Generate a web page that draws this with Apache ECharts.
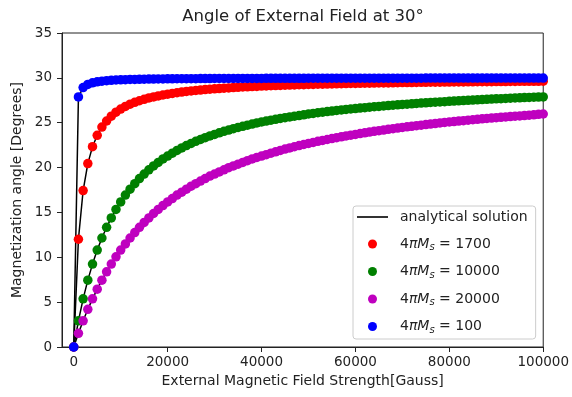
<!DOCTYPE html>
<html>
<head>
<meta charset="utf-8">
<script src="https://cdn.jsdelivr.net/npm/echarts@6/dist/echarts.min.js"></script>
<style>
  html, body { margin: 0; padding: 0; background: #fff; }
  #chart { width: 572px; height: 397px; }
</style>
</head>
<body>
<div id="chart"></div>
<script>
// external field values (Gauss), one per sample
var fieldH = [0, 1000, 2000, 3000, 4000, 5000, 6000, 7000, 8000, 9000,
  10000, 11000, 12000, 13000, 14000, 15000, 16000, 17000, 18000, 19000,
  20000, 21000, 22000, 23000, 24000, 25000, 26000, 27000, 28000, 29000,
  30000, 31000, 32000, 33000, 34000, 35000, 36000, 37000, 38000, 39000,
  40000, 41000, 42000, 43000, 44000, 45000, 46000, 47000, 48000, 49000,
  50000, 51000, 52000, 53000, 54000, 55000, 56000, 57000, 58000, 59000,
  60000, 61000, 62000, 63000, 64000, 65000, 66000, 67000, 68000, 69000,
  70000, 71000, 72000, 73000, 74000, 75000, 76000, 77000, 78000, 79000,
  80000, 81000, 82000, 83000, 84000, 85000, 86000, 87000, 88000, 89000,
  90000, 91000, 92000, 93000, 94000, 95000, 96000, 97000, 98000, 99000,
  100000];

// magnetization angle (degrees)
var angle1700 = [0, 12.01, 17.44, 20.44, 22.33, 23.60, 24.52, 25.19, 25.73, 26.17,
  26.52, 26.81, 27.06, 27.27, 27.45, 27.61, 27.76, 27.88, 27.99, 28.09,
  28.18, 28.27, 28.34, 28.41, 28.48, 28.54, 28.59, 28.64, 28.69, 28.73,
  28.78, 28.81, 28.85, 28.88, 28.92, 28.95, 28.98, 29.00, 29.03, 29.05,
  29.08, 29.10, 29.12, 29.14, 29.16, 29.18, 29.19, 29.21, 29.23, 29.24,
  29.26, 29.27, 29.29, 29.30, 29.31, 29.32, 29.34, 29.35, 29.36, 29.37,
  29.38, 29.39, 29.40, 29.41, 29.42, 29.43, 29.44, 29.44, 29.45, 29.46,
  29.47, 29.48, 29.48, 29.49, 29.50, 29.50, 29.51, 29.52, 29.52, 29.53,
  29.53, 29.54, 29.55, 29.55, 29.56, 29.56, 29.57, 29.57, 29.58, 29.58,
  29.59, 29.59, 29.59, 29.60, 29.60, 29.61, 29.61, 29.61, 29.62, 29.62,
  29.63];

var angle10000 = [0, 2.92, 5.37, 7.45, 9.24, 10.80, 12.15, 13.34, 14.39, 15.33,
  16.17, 16.93, 17.59, 18.21, 18.77, 19.28, 19.75, 20.18, 20.57, 20.96,
  21.28, 21.60, 21.91, 22.19, 22.45, 22.69, 22.92, 23.13, 23.33, 23.53,
  23.70, 23.87, 24.04, 24.18, 24.33, 24.48, 24.60, 24.73, 24.85, 24.97,
  25.08, 25.18, 25.28, 25.38, 25.48, 25.56, 25.64, 25.72, 25.80, 25.88,
  25.97, 26.04, 26.11, 26.17, 26.24, 26.30, 26.36, 26.42, 26.48, 26.53,
  26.58, 26.63, 26.68, 26.73, 26.78, 26.82, 26.87, 26.91, 26.96, 27.00,
  27.04, 27.07, 27.11, 27.15, 27.19, 27.22, 27.26, 27.29, 27.32, 27.35,
  27.38, 27.41, 27.44, 27.47, 27.50, 27.53, 27.55, 27.58, 27.61, 27.63,
  27.66, 27.68, 27.71, 27.73, 27.76, 27.78, 27.80, 27.82, 27.84, 27.86,
  27.88];

var angle20000 = [0, 1.52, 2.92, 4.20, 5.37, 6.45, 7.45, 8.38, 9.24, 10.05,
  10.80, 11.49, 12.15, 12.76, 13.34, 13.89, 14.39, 14.88, 15.33, 15.76,
  16.17, 16.55, 16.93, 17.26, 17.59, 17.92, 18.21, 18.49, 18.77, 19.05,
  19.28, 19.52, 19.75, 19.99, 20.18, 20.38, 20.57, 20.77, 20.96, 21.13,
  21.28, 21.44, 21.60, 21.75, 21.91, 22.06, 22.19, 22.32, 22.45, 22.57,
  22.69, 22.80, 22.92, 23.03, 23.13, 23.23, 23.33, 23.43, 23.53, 23.61,
  23.70, 23.79, 23.87, 23.96, 24.04, 24.11, 24.18, 24.26, 24.33, 24.40,
  24.48, 24.54, 24.60, 24.67, 24.73, 24.79, 24.85, 24.91, 24.97, 25.03,
  25.08, 25.13, 25.18, 25.23, 25.28, 25.33, 25.38, 25.43, 25.48, 25.52,
  25.56, 25.60, 25.64, 25.68, 25.72, 25.76, 25.80, 25.84, 25.88, 25.93,
  25.97];

var angle100 = [0, 27.88, 28.92, 29.27, 29.45, 29.56, 29.63, 29.69, 29.72, 29.76,
  29.78, 29.80, 29.82, 29.83, 29.84, 29.85, 29.86, 29.87, 29.88, 29.88,
  29.89, 29.89, 29.90, 29.90, 29.91, 29.91, 29.91, 29.92, 29.92, 29.92,
  29.93, 29.93, 29.93, 29.93, 29.93, 29.94, 29.94, 29.94, 29.94, 29.94,
  29.94, 29.95, 29.95, 29.95, 29.95, 29.95, 29.95, 29.95, 29.95, 29.95,
  29.96, 29.96, 29.96, 29.96, 29.96, 29.96, 29.96, 29.96, 29.96, 29.96,
  29.96, 29.97, 29.97, 29.97, 29.97, 29.97, 29.97, 29.97, 29.97, 29.97,
  29.97, 29.97, 29.97, 29.97, 29.97, 29.98, 29.98, 29.98, 29.98, 29.98,
  29.98, 29.98, 29.98, 29.98, 29.98, 29.98, 29.98, 29.98, 29.98, 29.98,
  29.98, 29.98, 29.98, 29.98, 29.98, 29.98, 29.98, 29.98, 29.98, 29.98,
  29.98];

var msValues = [1700, 10000, 20000, 100];
var msAngles = [angle1700, angle10000, angle20000, angle100];
var msColors = ['#ff0000', '#008000', '#bf00bf', '#0000ff'];
var xTicks = [0, 20000, 40000, 60000, 80000, 100000];

var FONT = 'DejaVu Sans';
var lineName = 'analytical solution';

function pairs(ys) {
  return fieldH.map(function (h, i) { return [h, ys[i]]; });
}
function msName(v) { return '4πMs = ' + v; }

var dom = document.getElementById('chart');
var myChart = echarts.init(dom, null, { renderer: 'canvas' });

var series = [];
// black analytic curves underneath
msAngles.forEach(function (ys) {
  series.push({
    name: lineName,
    type: 'line',
    data: pairs(ys),
    symbol: 'none',
    color: '#000',
    lineStyle: { color: '#000', width: 1.5 },
    z: 2,
    animation: false
  });
});
// coloured points on top
msAngles.forEach(function (ys, i) {
  series.push({
    name: msName(msValues[i]),
    type: 'scatter',
    data: pairs(ys),
    symbolSize: 9.5,
    color: msColors[i],
    itemStyle: { color: msColors[i], opacity: 1 },
    z: 3,
    animation: false
  });
});

var legendData = [{ name: lineName, icon: 'path://M0,0h31v1.6h-31z' }];
msValues.forEach(function (v) { legendData.push({ name: msName(v), icon: 'circle' }); });

var option = {
  animation: false,
  textStyle: { fontFamily: FONT },
  title: {
    text: 'Angle of External Field at 30°',
    left: 303,
    textAlign: 'center',
    top: 8,
    padding: 0,
    textStyle: { fontFamily: FONT, fontSize: 16.5, fontWeight: 'normal', color: '#222' }
  },
  grid: {
    left: 62, right: 27, top: 33, bottom: 50,
    show: true, borderColor: '#222', borderWidth: 1, backgroundColor: 'transparent'
  },
  legend: {
    orient: 'vertical',
    left: 353, top: 206,
    data: legendData,
    itemWidth: 31, itemHeight: 9, itemGap: 11,
    padding: [3, 8, 4, 4],
    borderColor: '#cccccc', borderWidth: 1, borderRadius: 3,
    backgroundColor: 'rgba(255,255,255,0.8)',
    formatter: function (name) {
      if (name === lineName) return '{n|' + name + '}';
      var v = name.split('= ')[1];
      return '{n|4}{i|πM}{s|s}{n| = ' + v + '}';
    },
    textStyle: {
      fontFamily: FONT, fontSize: 14, color: '#222', padding: [0, 0, 0, 7], lineHeight: 16,
      rich: {
        n: { fontFamily: FONT, fontSize: 14, color: '#222' },
        i: { fontFamily: FONT, fontSize: 14, fontStyle: 'italic', color: '#222' },
        s: { fontFamily: FONT, fontSize: 10, fontStyle: 'italic', color: '#222', padding: [7, 0, 0, 0] }
      }
    }
  },
  xAxis: {
    type: 'value',
    min: -2500, max: 100000,
    name: 'External Magnetic Field Strength[Gauss]',
    nameLocation: 'middle', nameGap: 26,
    nameTextStyle: { fontFamily: FONT, fontSize: 14, color: '#222' },
    axisLine: { show: true, onZero: false, lineStyle: { color: '#222', width: 1 } },
    axisTick: { show: true, inside: false, length: 5, customValues: xTicks, lineStyle: { color: '#222' } },
    axisLabel: {
      customValues: xTicks, margin: 8, fontFamily: FONT, fontSize: 13.5, color: '#222',
      formatter: function (v) { return String(v); }
    },
    splitLine: { show: false }
  },
  yAxis: {
    type: 'value',
    min: 0, max: 35, interval: 5,
    name: 'Magnetization angle [Degrees]',
    nameLocation: 'middle', nameGap: 37,
    nameTextStyle: { fontFamily: FONT, fontSize: 14, color: '#222' },
    axisLine: { show: true, onZero: false, lineStyle: { color: '#222', width: 1 } },
    axisTick: { show: true, inside: false, length: 5, lineStyle: { color: '#222' } },
    axisLabel: { margin: 10, fontFamily: FONT, fontSize: 13.5, color: '#222' },
    splitLine: { show: false }
  },
  series: series
};

if (option && typeof option === 'object') {
  myChart.setOption(option, true);
}
</script>
</body>
</html>
